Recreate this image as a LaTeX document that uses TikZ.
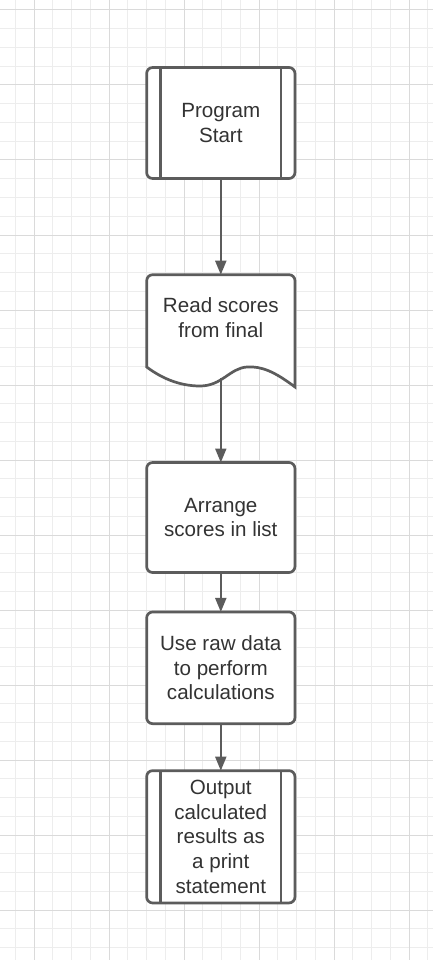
\documentclass[tikz,border=0pt]{standalone}
\usepackage{fontspec}
\setmainfont{Liberation Sans}
\usetikzlibrary{arrows.meta}
\definecolor{gridminor}{HTML}{EDEDED}
\definecolor{gridmajor}{HTML}{DADADA}
\definecolor{edge}{HTML}{5C5C5C}
\definecolor{txt}{HTML}{333333}
\tikzset{
  minorline/.style={draw=gridminor, line width=1pt},
  majorline/.style={draw=gridmajor, line width=1pt},
  box/.style={draw=edge, line width=2.7pt, rounded corners=6pt, fill=white,
    minimum width=148.3pt, outer sep=0pt, inner sep=0pt,
    text=txt, align=center, font=\fontsize{20.6}{24.75}\selectfont},
  label/.style={text=txt, align=center, font=\fontsize{20.6}{24.75}\selectfont, inner sep=0pt},
  sidebar/.style={draw=edge, line width=2.7pt},
  arr/.style={draw=edge, line width=2pt, -{Triangle[width=11pt,length=14pt]}},
}
\begin{document}
\begin{tikzpicture}[x=1pt, y=-1pt]
\useasboundingbox (0,0) rectangle (433,960);
\fill[white] (0,0) rectangle (433,960);
% grid
\foreach \k in {0,...,22} \draw[minorline] ({15.25+18.75*\k},0) -- ({15.25+18.75*\k},960);
\foreach \k in {0,...,50} \draw[minorline] (0,{10+18.75*\k}) -- (433,{10+18.75*\k});
\foreach \k in {0,...,5} \draw[majorline] ({34+75*\k},0) -- ({34+75*\k},960);
\foreach \k in {0,...,12} \draw[majorline] (0,{10+75*\k}) -- (433,{10+75*\k});

% Box 1: Program Start
\node[box, minimum height=111pt] (b1) at (220.8,123) {Program\\Start};
\draw[sidebar] ([xshift=14pt]b1.north west) -- ([xshift=14pt]b1.south west);
\draw[sidebar] ([xshift=-14pt]b1.north east) -- ([xshift=-14pt]b1.south east);

% Box 2: document
\draw[draw=edge, line width=2.7pt, fill=white]
  (146.7,367) [rounded corners=6pt] -- (146.7,274.7) -- (295,274.7) [sharp corners] -- (295,387)
  .. controls (275,372) and (262,366) .. (247,367)
  .. controls (230,368) and (222,386) .. (200,386)
  .. controls (178,386) and (160,377) .. (146.7,367) -- cycle;
\node[label] (b2) at (220.8,318) {Read scores\\from final};
\coordinate (b2top) at (220.8,274.7);
\coordinate (b2bot) at (220.8,378);

% Box 3
\node[box, minimum height=110pt] (b3) at (220.8,517.5) {Arrange\\scores in list};
% Box 4
\node[box, minimum height=111.7pt] (b4) at (220.8,667.8) {Use raw data\\to perform\\calculations};
% Box 5
\node[box, minimum height=132.3pt] (b5) at (220.8,836.8) {Output\\calculated\\results as\\a print\\statement};
\draw[sidebar] ([xshift=14pt]b5.north west) -- ([xshift=14pt]b5.south west);
\draw[sidebar] ([xshift=-14pt]b5.north east) -- ([xshift=-14pt]b5.south east);

% connectors
\draw[arr] (b1.south) -- (b2top);
\draw[arr] (b2bot) -- (b3.north);
\draw[arr] (b3.south) -- (b4.north);
\draw[arr] (b4.south) -- (b5.north);
\end{tikzpicture}
\end{document}
